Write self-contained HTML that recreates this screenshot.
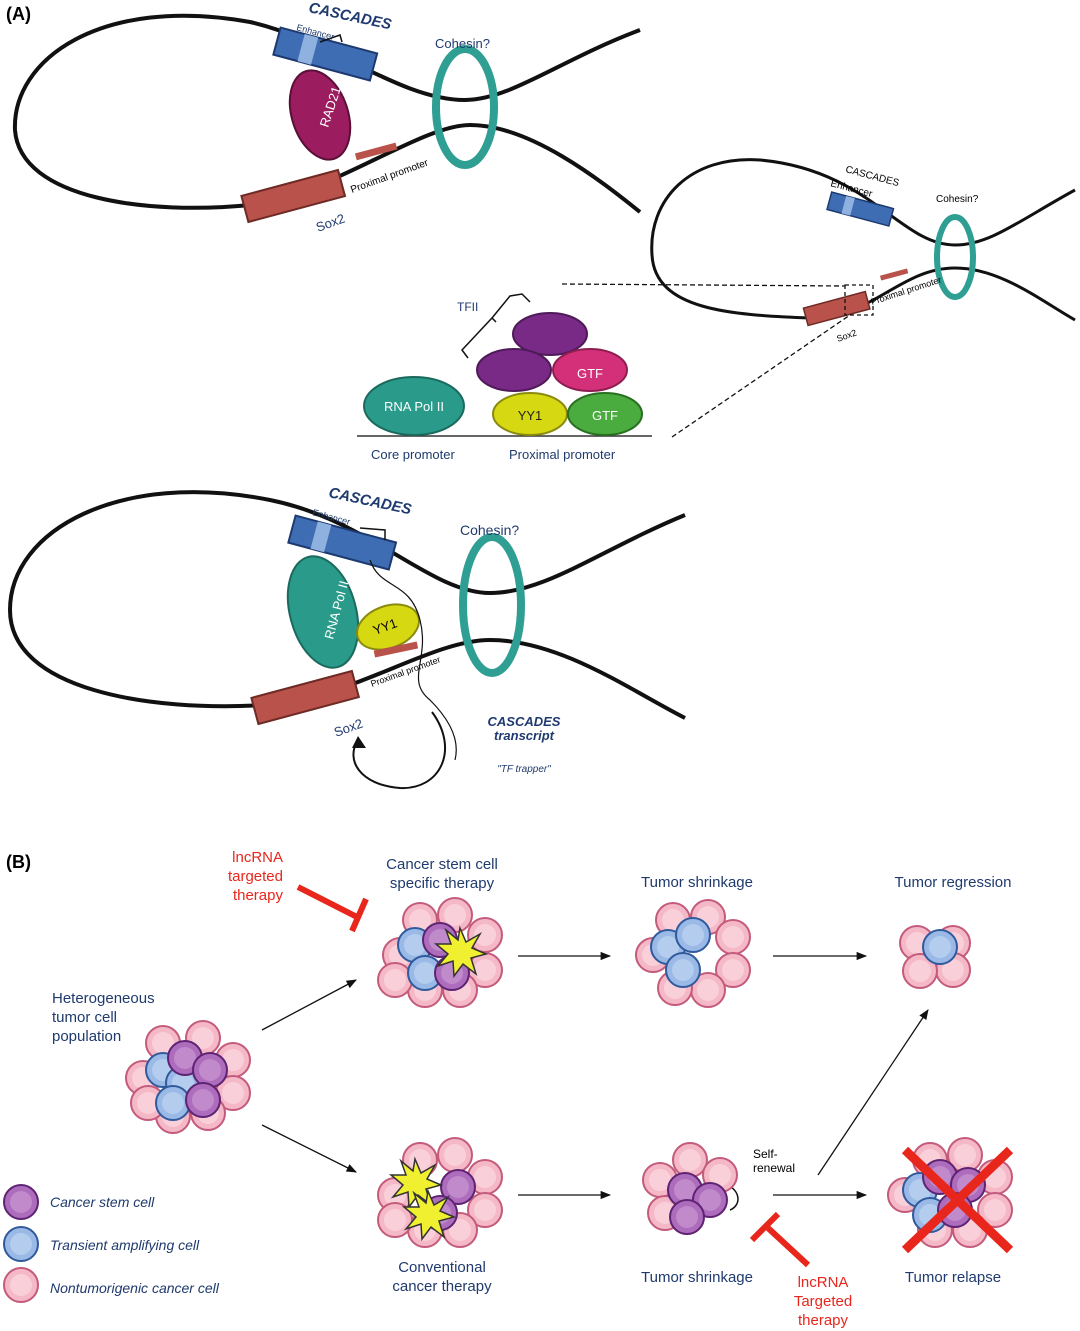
<!DOCTYPE html>
<html><head><meta charset="utf-8"><style>
html,body{margin:0;padding:0;background:#fff}
svg{display:block;font-family:"Liberation Sans",sans-serif}
.nv{fill:#1f3a6e}
</style></head><body>
<svg width="1080" height="1331" viewBox="0 0 1080 1331" xmlns="http://www.w3.org/2000/svg">
<defs>
<g id="cp"><circle r="17" fill="#f5b8c6" stroke="#c45a7c" stroke-width="2"/><circle r="11" fill="#f9d0da"/></g>
<g id="cb"><circle r="17" fill="#9ab9e6" stroke="#2f5a9c" stroke-width="2"/><circle r="11" fill="#b4cdee"/></g>
<g id="cu"><circle r="17" fill="#ad6cbc" stroke="#5e2372" stroke-width="2"/><circle r="11" fill="#c08acb"/></g>
<g id="star"><polygon points="0,-24 6,-10 20,-18 12,-4 26,2 11,6 16,22 3,12 -6,24 -7,9 -22,14 -12,2 -24,-8 -9,-8 -14,-22 -2,-12" fill="#f0ef30" stroke="#333" stroke-width="1.5"/></g>
<marker id="ar" viewBox="0 0 10 10" refX="9" refY="5" markerWidth="8" markerHeight="8" orient="auto"><path d="M0,1 L10,5 L0,9 z" fill="#111"/></marker>
</defs>
<text x="6" y="20" font-size="18" font-weight="bold">(A)</text>
<!-- top loop -->
<g fill="none" stroke="#111" stroke-width="4">
<path d="M640,30 C560,60 510,100 465,100 C400,100 330,40 250,22 C100,-5 12,60 15,130 C20,200 150,215 250,205 C330,195 420,125 470,125 C530,125 600,180 640,212"/>
</g>
<g transform="rotate(15 325 55)"><rect x="275" y="40" width="100" height="28" fill="#3f6db3" stroke="#1d3a70" stroke-width="2"/><rect x="300" y="40" width="14" height="28" fill="#8fb1df"/></g>
<path d="M320,42 L340,35 L342,42" fill="none" stroke="#111" stroke-width="1.5"/>
<text x="296" y="30" font-size="9" class="nv" transform="rotate(15 296 30)">Enhancer</text>
<text x="308" y="12" font-size="15" font-weight="bold" font-style="italic" class="nv" transform="rotate(12 308 12)">CASCADES</text>
<ellipse cx="320" cy="115" rx="28" ry="46" fill="#9b1c5f" stroke="#5a0f38" stroke-width="2" transform="rotate(-18 320 115)"/>
<text x="328" y="128" font-size="13" fill="#fff" transform="rotate(-72 328 128)">RAD21</text>
<g transform="rotate(-15 295 195)"><rect x="243" y="182" width="100" height="27" fill="#b8524a" stroke="#6e2a25" stroke-width="2"/></g>
<rect x="355" y="148" width="42" height="7" fill="#b8524a" transform="rotate(-15 376 151)"/>
<text x="352" y="193" font-size="10" transform="rotate(-20 352 193)">Proximal promoter</text>
<text x="318" y="232" font-size="13" class="nv" transform="rotate(-20 318 232)">Sox2</text>
<ellipse cx="465" cy="107" rx="29" ry="58" fill="none" stroke="#2f9e93" stroke-width="8"/>
<text x="435" y="48" font-size="13" class="nv">Cohesin?</text>
<!-- right small loop -->
<g fill="none" stroke="#111" stroke-width="3">
<path d="M1075,190 C1020,220 990,245 955,245 C900,245 870,170 760,160 C690,155 648,200 652,255 C655,310 730,315 810,318 C870,320 900,268 955,268 C1000,268 1040,300 1075,320"/>
</g>
<g transform="rotate(15 860 210)"><rect x="828" y="200" width="64" height="18" fill="#3f6db3" stroke="#1d3a70" stroke-width="1.5"/><rect x="843" y="200" width="9" height="18" fill="#8fb1df"/></g>
<text x="845" y="172" font-size="10" transform="rotate(15 845 172)">CASCADES</text>
<text x="830" y="186" font-size="10" transform="rotate(15 830 186)">Enhancer</text>
<ellipse cx="955" cy="257" rx="18" ry="40" fill="none" stroke="#2f9e93" stroke-width="6"/>
<text x="936" y="202" font-size="10">Cohesin?</text>
<g transform="rotate(-15 835 310)"><rect x="805" y="300" width="64" height="18" fill="#b8524a" stroke="#6e2a25" stroke-width="1.5"/></g>
<rect x="880" y="272" width="28" height="5" fill="#b8524a" transform="rotate(-15 894 274)"/>
<text x="872" y="305" font-size="9" transform="rotate(-18 872 305)">Proximal promoter</text>
<text x="838" y="342" font-size="9" transform="rotate(-20 838 342)">Sox2</text>
<rect x="845" y="285" width="28" height="30" fill="none" stroke="#111" stroke-dasharray="4,3" stroke-width="1.3"/>
<line x1="562" y1="284" x2="845" y2="286" stroke="#111" stroke-dasharray="5,3" stroke-width="1.3"/>
<line x1="672" y1="437" x2="850" y2="315" stroke="#111" stroke-dasharray="5,3" stroke-width="1.3"/>
<!-- center proteins -->
<line x1="357" y1="436" x2="652" y2="436" stroke="#333" stroke-width="1.5"/>
<ellipse cx="414" cy="406" rx="50" ry="29" fill="#2a9a8a" stroke="#1a6a5e" stroke-width="2"/>
<text x="414" y="411" font-size="13" fill="#fff" text-anchor="middle">RNA Pol II</text>
<ellipse cx="550" cy="334" rx="37" ry="21" fill="#782a86" stroke="#4e1a58" stroke-width="2"/>
<ellipse cx="514" cy="370" rx="37" ry="21" fill="#782a86" stroke="#4e1a58" stroke-width="2"/>
<ellipse cx="590" cy="370" rx="37" ry="21" fill="#d4307a" stroke="#8e1d50" stroke-width="2"/>
<text x="590" y="378" font-size="13" fill="#fff" text-anchor="middle">GTF</text>
<ellipse cx="530" cy="414" rx="37" ry="21" fill="#d6d812" stroke="#8a8a10" stroke-width="2"/>
<text x="530" y="420" font-size="13" text-anchor="middle" fill="#222">YY1</text>
<ellipse cx="605" cy="414" rx="37" ry="21" fill="#4aab3e" stroke="#2a7022" stroke-width="2"/>
<text x="605" y="420" font-size="13" fill="#fff" text-anchor="middle">GTF</text>
<path d="M468,358 L462,350 L492,318 L496,322 M492,318 L510,296 L522,294 L530,302" fill="none" stroke="#111" stroke-width="1.5"/>
<text x="457" y="311" font-size="12" class="nv">TFII</text>
<text x="371" y="459" font-size="13" class="nv">Core promoter</text>
<text x="509" y="459" font-size="13" class="nv">Proximal promoter</text>
<!-- bottom loop -->
<g fill="none" stroke="#111" stroke-width="4">
<path d="M685,515 C600,550 545,593 490,593 C430,593 370,520 270,500 C120,470 10,530 10,610 C10,690 150,712 265,705 C350,700 430,640 490,640 C560,640 630,690 685,718"/>
</g>
<g transform="rotate(15 340 543)"><rect x="290" y="528" width="104" height="28" fill="#3f6db3" stroke="#1d3a70" stroke-width="2"/><rect x="313" y="528" width="14" height="28" fill="#8fb1df"/></g>
<path d="M360,528 L385,530 L385,540" fill="none" stroke="#111" stroke-width="1.5"/>
<text x="312" y="515" font-size="9" class="nv" transform="rotate(15 312 515)">Enhancer</text>
<text x="328" y="497" font-size="15" font-weight="bold" font-style="italic" class="nv" transform="rotate(12 328 497)">CASCADES</text>
<ellipse cx="323" cy="612" rx="33" ry="57" fill="#2a9a8a" stroke="#1a6a5e" stroke-width="2" transform="rotate(-15 323 612)"/>
<text x="333" y="640" font-size="13" fill="#fff" transform="rotate(-75 333 640)">RNA Pol II</text>
<ellipse cx="388" cy="627" rx="32" ry="21" fill="#d6d812" stroke="#8a8a10" stroke-width="2" transform="rotate(-20 388 627)"/>
<text x="375" y="635" font-size="13" transform="rotate(-20 375 635)">YY1</text>
<g transform="rotate(-15 305 697)"><rect x="253" y="684" width="104" height="27" fill="#b8524a" stroke="#6e2a25" stroke-width="2"/></g>
<rect x="374" y="646" width="44" height="7" fill="#b8524a" transform="rotate(-12 396 650)"/>
<text x="372" y="687" font-size="9" transform="rotate(-20 372 687)">Proximal promoter</text>
<text x="336" y="737" font-size="13" class="nv" transform="rotate(-20 336 737)">Sox2</text>
<path d="M370,560 C380,590 410,580 420,620 C430,660 405,680 430,700 C450,720 460,740 455,760" fill="none" stroke="#111" stroke-width="1.2"/>
<ellipse cx="492" cy="605" rx="29" ry="68" fill="none" stroke="#2f9e93" stroke-width="8"/>
<text x="460" y="535" font-size="14" class="nv">Cohesin?</text>
<path d="M432,712 C460,750 440,790 400,788 C360,785 345,760 358,740" fill="none" stroke="#111" stroke-width="2"/>
<path d="M352,748 L358,736 L366,748" fill="#111"/>
<text x="524" y="726" font-size="13" font-weight="bold" font-style="italic" class="nv" text-anchor="middle">CASCADES</text>
<text x="524" y="740" font-size="13" font-weight="bold" font-style="italic" class="nv" text-anchor="middle">transcript</text>
<text x="524" y="772" font-size="10" font-style="italic" class="nv" text-anchor="middle">"TF trapper"</text>
<!-- Panel B -->
<text x="6" y="868" font-size="18" font-weight="bold">(B)</text>
<g font-size="15" fill="#e8261c" text-anchor="end"><text x="283" y="862">lncRNA</text><text x="283" y="881">targeted</text><text x="283" y="900">therapy</text></g>
<line x1="298" y1="887" x2="357" y2="917" stroke="#e8261c" stroke-width="6"/>
<line x1="366" y1="899" x2="352" y2="931" stroke="#e8261c" stroke-width="6"/>
<g font-size="15" class="nv" text-anchor="middle"><text x="442" y="869">Cancer stem cell</text><text x="442" y="888">specific therapy</text>
<text x="697" y="887">Tumor shrinkage</text><text x="953" y="887">Tumor regression</text>
<text x="442" y="1272">Conventional</text><text x="442" y="1291">cancer therapy</text>
<text x="697" y="1282">Tumor shrinkage</text><text x="953" y="1282">Tumor relapse</text></g>
<g font-size="15" class="nv"><text x="52" y="1003">Heterogeneous</text><text x="52" y="1022">tumor cell</text><text x="52" y="1041">population</text></g>
<g font-size="15" fill="#e8261c" text-anchor="middle"><text x="823" y="1287">lncRNA</text><text x="823" y="1306">Targeted</text><text x="823" y="1325">therapy</text></g>
<line x1="808" y1="1265" x2="768" y2="1228" stroke="#e8261c" stroke-width="6"/>
<line x1="752" y1="1240" x2="778" y2="1214" stroke="#e8261c" stroke-width="6"/>
<text x="753" y="1158" font-size="12">Self-</text><text x="753" y="1172" font-size="12">renewal</text>
<g stroke="#111" stroke-width="1.3" marker-end="url(#ar)">
<line x1="262" y1="1030" x2="356" y2="980"/><line x1="262" y1="1125" x2="356" y2="1172"/>
<line x1="518" y1="956" x2="610" y2="956"/><line x1="773" y1="956" x2="866" y2="956"/>
<line x1="518" y1="1195" x2="610" y2="1195"/><line x1="773" y1="1195" x2="866" y2="1195"/>
<line x1="818" y1="1175" x2="928" y2="1010"/>
</g>
<path d="M727,1185 C740,1190 742,1205 730,1210" fill="none" stroke="#111" stroke-width="1.5"/>
<!-- clusters -->
<g transform="translate(440,955)">
<use href="#cp" x="-40" y="0"/><use href="#cp" x="-20" y="-35"/><use href="#cp" x="15" y="-40"/><use href="#cp" x="45" y="-20"/><use href="#cp" x="45" y="15"/><use href="#cp" x="20" y="35"/><use href="#cp" x="-15" y="35"/><use href="#cp" x="-45" y="25"/>
<use href="#cb" x="-25" y="-10"/><use href="#cb" x="-15" y="18"/><use href="#cu" x="0" y="-15"/><use href="#cu" x="12" y="18"/><use href="#star" x="20" y="-3"/></g>
<g transform="translate(693,955)">
<use href="#cp" x="-40" y="0"/><use href="#cp" x="-20" y="-35"/><use href="#cp" x="15" y="-38"/><use href="#cp" x="40" y="-18"/><use href="#cp" x="40" y="15"/><use href="#cp" x="15" y="35"/><use href="#cp" x="-18" y="33"/>
<use href="#cb" x="-25" y="-8"/><use href="#cb" x="-10" y="15"/><use href="#cb" x="0" y="-20"/></g>
<g transform="translate(935,955)">
<use href="#cp" x="-18" y="-12"/><use href="#cp" x="18" y="-12"/><use href="#cp" x="18" y="15"/><use href="#cp" x="-15" y="16"/><use href="#cb" x="5" y="-8"/></g>
<g transform="translate(188,1078)">
<use href="#cp" x="-45" y="0"/><use href="#cp" x="-25" y="-35"/><use href="#cp" x="15" y="-40"/><use href="#cp" x="45" y="-18"/><use href="#cp" x="45" y="15"/><use href="#cp" x="20" y="35"/><use href="#cp" x="-15" y="38"/><use href="#cp" x="-40" y="25"/>
<use href="#cb" x="-25" y="-8"/><use href="#cb" x="-5" y="5"/><use href="#cb" x="-15" y="25"/><use href="#cu" x="-3" y="-20"/><use href="#cu" x="22" y="-8"/><use href="#cu" x="15" y="22"/></g>
<g transform="translate(440,1195)">
<use href="#cp" x="-45" y="0"/><use href="#cp" x="-20" y="-35"/><use href="#cp" x="15" y="-40"/><use href="#cp" x="45" y="-18"/><use href="#cp" x="45" y="15"/><use href="#cp" x="20" y="35"/><use href="#cp" x="-15" y="35"/><use href="#cp" x="-45" y="25"/>
<use href="#cu" x="18" y="-8"/><use href="#cu" x="0" y="18"/><use href="#star" x="-25" y="-12"/><use href="#star" x="-12" y="20"/></g>
<g transform="translate(690,1195)">
<use href="#cp" x="-30" y="-15"/><use href="#cp" x="0" y="-35"/><use href="#cp" x="-25" y="18"/><use href="#cp" x="30" y="-20"/>
<use href="#cu" x="-5" y="-5"/><use href="#cu" x="20" y="5"/><use href="#cu" x="-3" y="22"/></g>
<g transform="translate(950,1195)">
<use href="#cp" x="-45" y="0"/><use href="#cp" x="-20" y="-35"/><use href="#cp" x="15" y="-40"/><use href="#cp" x="45" y="-18"/><use href="#cp" x="45" y="15"/><use href="#cp" x="20" y="35"/><use href="#cp" x="-15" y="35"/>
<use href="#cb" x="-30" y="-5"/><use href="#cb" x="-20" y="20"/><use href="#cu" x="-10" y="-18"/><use href="#cu" x="18" y="-10"/><use href="#cu" x="5" y="15"/>
<line x1="-45" y1="-45" x2="60" y2="55" stroke="#e8261c" stroke-width="9"/><line x1="60" y1="-45" x2="-45" y2="55" stroke="#e8261c" stroke-width="9"/></g>
<!-- legend -->
<use href="#cu" x="21" y="1202"/><use href="#cb" x="21" y="1244"/><use href="#cp" x="21" y="1285"/>
<g font-size="14" font-style="italic" class="nv"><text x="50" y="1207">Cancer stem cell</text><text x="50" y="1250">Transient amplifying cell</text><text x="50" y="1293">Nontumorigenic cancer cell</text></g>
</svg>
</body></html>
